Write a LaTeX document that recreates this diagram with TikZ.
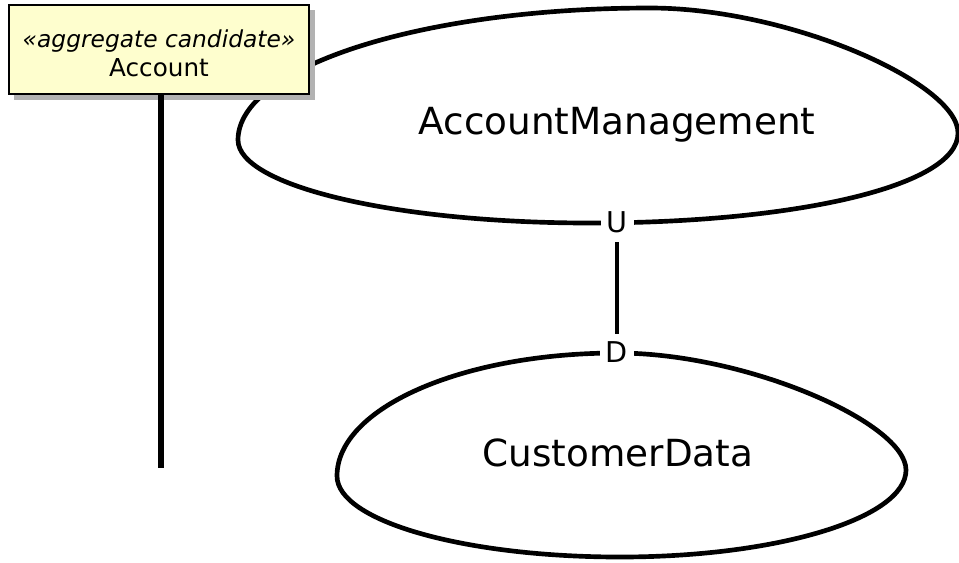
\documentclass[tikz,border=0pt]{standalone}
\usepackage{fontspec}
\setmainfont{DejaVu Sans}
\usetikzlibrary{positioning}

\definecolor{notefill}{HTML}{FEFECE}
\tikzstyle{context} = [line width=3.5pt, draw=black, line join=round]
\tikzstyle{ctxname} = [anchor=base, font=\fontsize{28}{34}\selectfont]
\tikzstyle{notebox} = [rectangle, minimum width=225pt, minimum height=66.75pt, text centered, align=center, draw=black, line width=1.5pt, fill=notefill, font=\fontsize{18.5}{21}\selectfont]
\tikzstyle{role} = [fill=white, inner xsep=4.5pt, inner ysep=2pt, font=\fontsize{21.5}{24}\selectfont]
\tikzstyle{link} = [line width=3pt]
\tikzstyle{tie} = [line width=4pt]

\begin{document}
\begin{tikzpicture}[x=0.75pt, y=-0.75pt]
	\useasboundingbox (0,0) rectangle (959,562);
	% Bounded contexts
	\draw [context] (238,140) .. controls (238,67) and (422,8) .. (650,8)
		.. controls (789,8) and (958,83) .. (958,133)
		.. controls (958,187) and (792,223) .. (590,223)
		.. controls (396,223) and (238,186) .. cycle;
	\draw [context] (337,476) .. controls (337,408) and (462,353) .. (617,353)
		.. controls (747,353) and (906,423) .. (906,470)
		.. controls (906,518) and (778,557) .. (620,557)
		.. controls (464,557) and (337,521) .. cycle;
	% Place nodes
	\node [ctxname] (AccountManagement) at (617,134) {AccountManagement};
	\node [ctxname] (CustomerData) at (618,466) {CustomerData};
	\node [role] (Upstream) at (617,222) {U};
	\node [role] (Downstream) at (617,352.5) {D};
	\coordinate (tail) at (161,468);
	\fill [gray!60] (14,10) rectangle (314.5,99.5);
	\node [notebox] (note) at (159,49.5) {\rule{0pt}{19pt}\fontsize{17.5}{21}\selectfont\textit{«aggregate candidate»}\\[1pt]Account};
	% Draw edges
	\draw [link, shorten <=5pt, shorten >=4pt] (Upstream) -- (Downstream);
	\draw [tie] (note.south -| tail) -- (tail);
\end{tikzpicture}
\end{document}
